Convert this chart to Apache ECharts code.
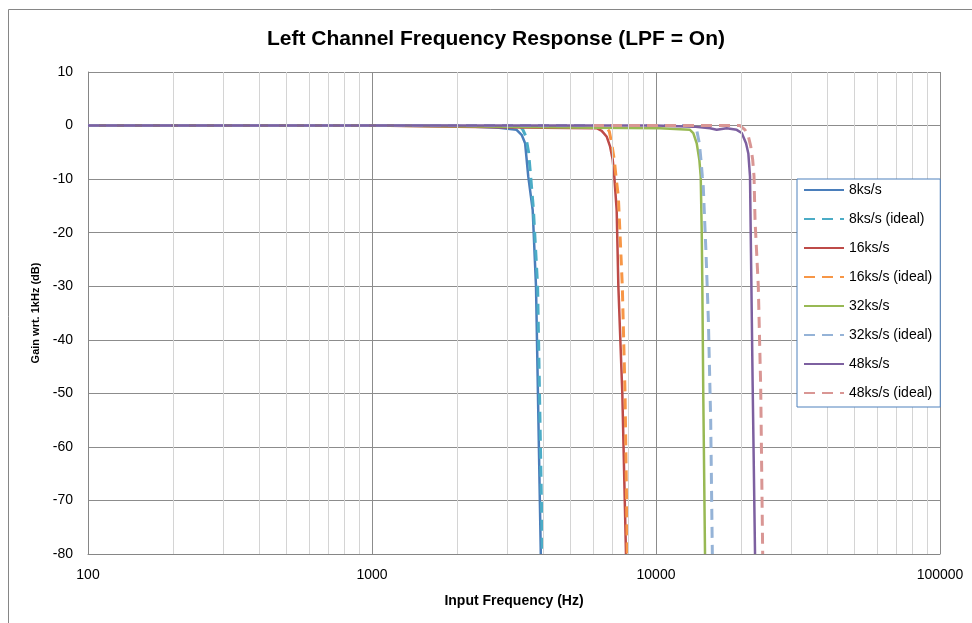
<!DOCTYPE html>
<html>
<head>
<meta charset="utf-8">
<script src="https://cdn.jsdelivr.net/npm/echarts@6/dist/echarts.min.js"></script>
<style>html,body{margin:0;padding:0;background:#fff}#c{width:972px;height:623px}</style>
</head>
<body>
<div id="c"></div>
<script>
// ---- data (frequency in Hz, gain in dB) ----
const names = ['8ks/s','8ks/s (ideal)','16ks/s','16ks/s (ideal)','32ks/s','32ks/s (ideal)','48ks/s','48ks/s (ideal)'];

const freq8  = [100, 1000, 2000, 2800, 3230, 3370, 3460, 3550, 3680, 3780, 3930];
const gain8  = [0, 0, -0.1, -0.4, -0.8, -1.8, -3.3, -9.5, -15.8, -30, -80];

const freq8i = [100, 3300, 3400, 3480, 3560, 3620, 3700, 3830, 3980];
const gain8i = [0, 0, -0.8, -2, -5, -9.5, -15.5, -30, -80];

const freq16  = [100, 1000, 2000, 4000, 6180, 6440, 6710, 6890, 7040, 7130, 7270, 7370, 7610, 7840];
const gain16  = [0, 0, -0.2, -0.4, -0.5, -1, -2.1, -3.9, -6.4, -9.5, -15.8, -30, -50, -80];

const freq16i = [100, 6610, 6850, 6980, 7130, 7230, 7370, 7610, 7780, 7925];
const gain16i = [0, 0, -1.1, -3.3, -6.4, -9.5, -13.3, -30, -50, -80];

const freq32  = [100, 1000, 3000, 6000, 10330, 13170, 13530, 13910, 14210, 14370, 14490, 14560, 14670, 14880];
const gain32  = [0, 0, -0.2, -0.4, -0.5, -0.8, -1.4, -3.3, -6.4, -9.5, -20, -30, -50, -80];

const freq32i = [100, 13400, 13910, 14210, 14400, 14560, 14670, 15000, 15290, 15580, 15790];
const gain32i = [0, 0, -0.8, -3.3, -6.4, -9.5, -11.4, -23.8, -36.3, -55, -80];

const freq48  = [100, 1000, 10000, 13530, 15500, 16360, 17740, 19240, 20040, 20750, 21140, 21430, 21600, 21900, 22320];
const gain48  = [0, 0, 0, -0.2, -0.5, -0.8, -0.5, -0.8, -1.4, -3.3, -5.2, -9.5, -23.8, -48.8, -80];

const freq48i = [6000, 19760, 20580, 21140, 21560, 21900, 22140, 22320, 22920, 23370, 23750];
const gain48i = [0, 0, -0.8, -2, -3.9, -6.4, -9.5, -17.6, -30, -48.8, -80];

const minorFreqs = [200,300,400,500,600,700,800,900,2000,3000,4000,5000,6000,7000,8000,9000,20000,30000,40000,50000,60000,70000,80000,90000];

const colors = ['#4A7EBB','#4BACC6','#BE4B48','#F79646','#98B954','#95B3D7','#7D60A0','#D99694'];
const freqs = [freq8, freq8i, freq16, freq16i, freq32, freq32i, freq48, freq48i];
const gains = [gain8, gain8i, gain16, gain16i, gain32, gain32i, gain48, gain48i];

const FONT = 'Liberation Sans';

const series = [{
  name: '_minor',
  type: 'line',
  data: [],
  silent: true,
  z: 1,
  markLine: {
    silent: true,
    symbol: 'none',
    animation: false,
    label: {show: false},
    lineStyle: {color: '#d4d4d4', width: 1, type: 'solid'},
    data: minorFreqs.map(f => ({xAxis: f}))
  }
}];
names.forEach((n, i) => {
  const dashed = i % 2 === 1;
  series.push({
    name: n,
    type: 'line',
    z: 3,
    showSymbol: false,
    symbol: 'none',
    animation: false,
    color: colors[i],
    lineStyle: {color: colors[i], width: dashed ? 3 : 2.5, type: dashed ? [11, 7] : 'solid'},
    data: freqs[i].map((f, k) => [f, gains[i][k]])
  });
});

const chart = echarts.init(document.getElementById('c'), null, {renderer: 'canvas'});
chart.setOption({
  animation: false,
  backgroundColor: '#fff',
  title: {
    text: 'Left Channel Frequency Response (LPF = On)',
    left: 262, top: 24,
    textStyle: {fontFamily: FONT, fontSize: 21, fontWeight: 'bold', color: '#000'}
  },
  grid: {left: 88, right: 32, top: 72, bottom: 69},
  legend: {
    data: names,
    orient: 'vertical',
    left: 797, top: 179,
    z: 10,
    padding: [4, 8, 7, 6],
    itemWidth: 40, itemHeight: 14, itemGap: 15,
    borderColor: '#4F81BD', borderWidth: 1,
    itemStyle: {color: 'rgba(0,0,0,0)', borderColor: 'rgba(0,0,0,0)', borderWidth: 0},
    textStyle: {fontFamily: FONT, fontSize: 14, color: '#000'},
    backgroundColor: '#fff'
  },
  xAxis: {
    type: 'log', logBase: 10, min: 100, max: 100000,
    name: 'Input Frequency (Hz)', nameLocation: 'middle', nameGap: 40,
    nameTextStyle: {fontFamily: FONT, fontSize: 14, fontWeight: 'bold', color: '#000'},
    axisLine: {show: true, onZero: false, lineStyle: {color: '#868686', width: 1}},
    axisTick: {show: false},
    axisLabel: {fontFamily: FONT, fontSize: 14, color: '#000', margin: 14,
      formatter: v => String(Math.round(v))},
    splitLine: {show: true, lineStyle: {color: '#8c8c8c', width: 1}}
  },
  yAxis: {
    type: 'value', min: -80, max: 10, interval: 10,
    name: 'Gain wrt. 1kHz (dB)', nameLocation: 'middle', nameGap: 44,
    nameTextStyle: {fontFamily: FONT, fontSize: 11, fontWeight: 'bold', color: '#000'},
    axisLine: {show: true, lineStyle: {color: '#868686', width: 1}},
    axisTick: {show: false},
    axisLabel: {fontFamily: FONT, fontSize: 14, color: '#000', margin: 15},
    splitLine: {show: true, lineStyle: {color: '#8c8c8c', width: 1}}
  },
  graphic: [{
    type: 'polyline', silent: true,
    shape: {points: [[8.5, 623], [8.5, 9.5], [972, 9.5]]},
    style: {stroke: '#868686', lineWidth: 1, fill: null}
  }],
  series: series
});
</script>
</body>
</html>
